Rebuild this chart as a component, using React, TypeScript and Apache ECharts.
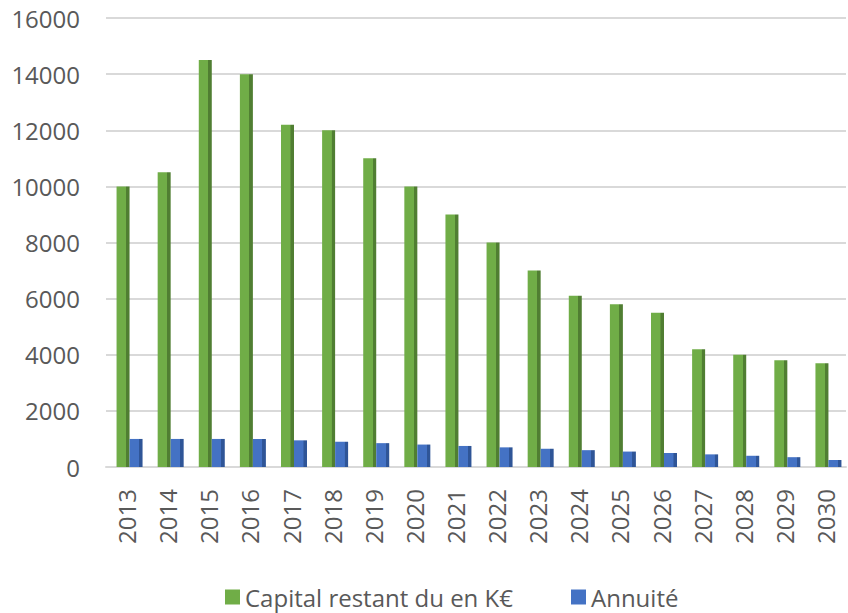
import React, { useEffect, useRef } from "react";
import * as echarts from "echarts";

const years = ["2013","2014","2015","2016","2017","2018","2019","2020","2021","2022","2023","2024","2025","2026","2027","2028","2029","2030"];
const capital = [10000,10500,14500,14000,12200,12000,11000,10000,9000,8000,7000,6100,5800,5500,4200,4000,3800,3700];
const annuite = [1000,1000,1000,1000,950,900,850,800,750,700,650,600,550,500,450,400,350,250];
const yTicks = { min: 0, max: 16000, interval: 2000 };

const font = "'Open Sans', 'Liberation Sans', sans-serif";
const textColor = "#595959";

function grad(main: string, side: string) {
  return new echarts.graphic.LinearGradient(0, 0, 1, 0, [
    { offset: 0, color: main },
    { offset: 0.72, color: main },
    { offset: 0.74, color: side },
    { offset: 1, color: side },
  ]);
}

export default function App() {
  const ref = useRef<HTMLDivElement>(null);
  useEffect(() => {
    if (!ref.current) return;
    const chart = echarts.init(ref.current, null, { renderer: "svg" });
    chart.setOption({
      animation: false,
      backgroundColor: "#ffffff",
      grid: { left: 106, right: 2, top: 18, bottom: 146 },
      legend: {
        left: 220,
        top: 580,
        itemWidth: 15,
        itemHeight: 15,
        itemGap: 58,
        icon: "rect",
        textStyle: { fontFamily: font, fontSize: 24, lineHeight: 24, color: textColor },
        data: [
          { name: "Capital restant du en K€", itemStyle: { color: "#70AD47" } },
          { name: "Annuité", itemStyle: { color: "#4472C4" } },
        ],
      },
      xAxis: {
        type: "category",
        data: years,
        axisLine: { show: true, lineStyle: { color: "#d9d9d9", width: 2 } },
        axisTick: { show: false },
        axisLabel: {
          rotate: 90,
          margin: 22,
          fontFamily: font,
          fontSize: 24,
          color: textColor,
        },
      },
      yAxis: {
        type: "value",
        min: yTicks.min,
        max: yTicks.max,
        interval: yTicks.interval,
        axisLine: { show: false },
        axisTick: { show: false },
        splitLine: { lineStyle: { color: "#d9d9d9", width: 2 } },
        axisLabel: {
          margin: 26,
          fontFamily: font,
          fontSize: 24,
          color: textColor,
          padding: [8, 0, 0, 0],
          formatter: (v: number) => String(v),
        },
      },
      series: [
        {
          name: "spacer",
          type: "bar",
          data: years.map(() => "-"),
          barWidth: 6,
          barGap: "0%",
          silent: true,
          itemStyle: { color: "transparent" },
        },
        {
          name: "Capital restant du en K€",
          type: "bar",
          data: capital,
          barWidth: 13,
          barGap: "0%",
          itemStyle: { color: grad("#70AD47", "#507E32") },
        },
        {
          name: "Annuité",
          type: "bar",
          data: annuite,
          barWidth: 13,
          barGap: "0%",
          itemStyle: { color: grad("#4472C4", "#2F5597") },
        },
      ],
    });
    return () => chart.dispose();
  }, []);
  return (
    <div
      ref={ref}
      style={{ position: "fixed", left: 0, top: 0, width: 848, height: 613 }}
    />
  );
}
